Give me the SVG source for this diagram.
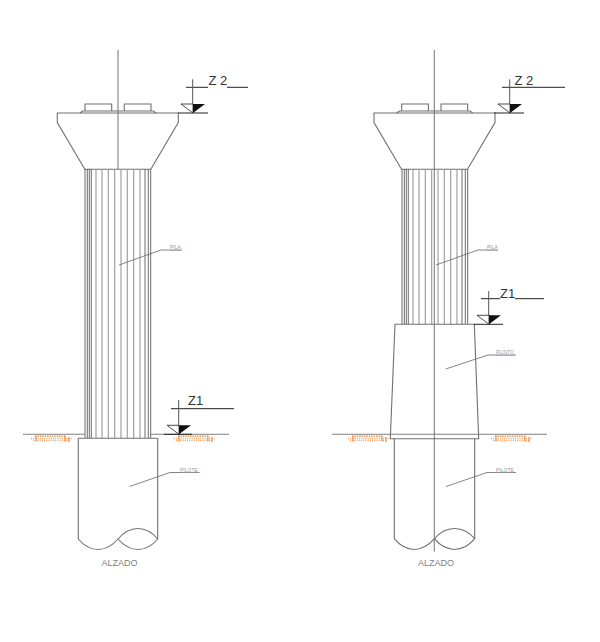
<svg xmlns="http://www.w3.org/2000/svg" width="600" height="642" viewBox="0 0 600 642">
<style>
.l{fill:none;stroke:#707070;stroke-width:1.1}
.c{fill:none;stroke:#808080;stroke-width:1.1}
.f{fill:none;stroke:#999;stroke-width:1.1}
.fd{fill:none;stroke:#5c5c5c;stroke-width:.9}
.k{fill:none;stroke:#222;stroke-width:1}
.ld{fill:none;stroke:#666;stroke-width:.8}
.t{font-family:"Liberation Sans",Arial,sans-serif}
.z{font-size:13px;fill:#333}
.s{font-size:5px;fill:#999;text-decoration:underline}
.a{font-size:9px;fill:#808080}
.h1{fill:none;stroke:#e07f30;stroke-width:1.2;stroke-dasharray:1.5 .9}
.h2{fill:none;stroke:#eda268;stroke-width:1.6;stroke-dasharray:1 1.2}
.h3{fill:none;stroke:#dd7a28;stroke-width:.9}
</style>
<defs>
<g id="hatch">
<path class="h1" d="M5 1.200H36"/>
<path class="h2" d="M1 3.500H42M3 5.500H40"/>
<path class="h3" d="M6 1V6.500M35 1V6.500M39 2V7"/>
</g>
<g id="mark">
<path d="M-12 -9H0V0Z" fill="#fff" stroke="#222" stroke-width=".8"/>
<path d="M0 -9H12L0 0Z" fill="#111"/>
</g>
<g id="cap">
<path class="l" d="M0 0H121V9.500L93.500 56.300H27.500L0 9.500Z"/>
<path class="l" d="M22.700 0L25.500 -2H96L98.700 0"/>
<path class="l" d="M27.700 -2V-9H54.400V-2M67 -2V-9H93.700V-2"/>
</g>
</defs>

<g id="left-elevation">
<line class="c" x1="118" y1="50" x2="118" y2="169"/>
<use href="#cap" x="57.300" y="113"/>
<path class="fd" d="M85 169V438M87.300 169V438M89.300 169V438M91.300 169V438M145 169V438M148.300 169V438M150.700 169V438"/>
<path class="f" d="M96 169V438M102 169V438M108.300 169V438M114.700 169V438M121 169V438M127.300 169V438M133.700 169V438M140 169V438"/>
<path class="c" d="M23 434.300H85M151 434.300H229"/>
<use href="#hatch" x="30" y="435"/>
<use href="#hatch" x="173" y="435"/>
<path class="l" d="M78.300 438.300H157.700M78.300 438.300V539M157.700 438.300V539"/>
<path class="l" d="M78.300 539C90 553 106 553 118 539C130 525 146 525 157.700 539C146 553 130 553 118 539"/>
</g>

<g id="right-elevation">
<line class="c" x1="434.300" y1="50" x2="434.300" y2="551.700"/>
<use href="#cap" x="374" y="113"/>
<path class="fd" d="M402 169V324M404.300 169V324M406.300 169V324M408.300 169V324M462 169V324M465.300 169V324M467.700 169V324"/>
<path class="f" d="M413 169V324M419 169V324M425.300 169V324M431.700 169V324M438 169V324M444.300 169V324M450.700 169V324M457 169V324"/>
<path class="l" d="M395 324.300H474.300L478.700 438.700H390.300Z"/>
<path class="c" d="M332 434.300H547"/>
<use href="#hatch" x="347" y="435"/>
<use href="#hatch" x="490" y="435"/>
<path class="l" d="M394.300 438.700V538.700M474.700 438.700V538.700"/>
<path class="l" d="M394.300 538.700C406 553 422 553 434.500 538.700C446 525 463 525 474.700 538.700C463 553 446 553 434.500 538.700"/>
</g>

<g id="connectors">
<path class="ld" d="M119 265L161 250H182"/>
<path class="ld" d="M129.500 486.500L170 472.500H199.500"/>
<path class="ld" d="M436 265L478 250H498"/>
<path class="ld" d="M445.700 369L488 355H516"/>
<path class="ld" d="M446 486.500L487 472.500H516"/>
</g>

<g id="level-z2-left">
<path class="k" d="M178 113H208M186 87.300H208M227 87.300H248"/>
<path d="M192.700 79.300V113" fill="none" stroke="#555"/>
<use href="#mark" x="193" y="113"/>
<text class="t z" x="208.500" y="85">Z 2</text>
</g>
<g id="level-z1-left">
<path class="k" d="M164 434.300H192M171 408.700H234"/>
<path d="M178.700 400V434" fill="none" stroke="#555"/>
<use href="#mark" x="179" y="434.300"/>
<text class="t z" x="188" y="405">Z1</text>
</g>
<g id="level-z2-right">
<path class="k" d="M494 113H524M502 87.300H565"/>
<path d="M509.700 79.300V113" fill="none" stroke="#555"/>
<use href="#mark" x="510" y="113"/>
<text class="t z" x="514.500" y="85">Z 2</text>
</g>
<g id="level-z1-right">
<path class="k" d="M474 324.300H503M481 298.700H500M515 298.700H544"/>
<path d="M488.700 291V324" fill="none" stroke="#555"/>
<use href="#mark" x="489" y="324.300"/>
<text class="t z" x="500" y="298">Z1</text>
</g>

<g id="labels">
<text class="t s" x="170" y="249">PILA</text>
<text class="t s" x="180" y="471.500">PILOTE</text>
<text class="t s" x="487" y="249">PILA</text>
<text class="t s" x="496" y="354">PLINTO</text>
<text class="t s" x="496" y="471.500">PILOTE</text>
<text class="t a" x="101.500" y="566">ALZADO</text>
<text class="t a" x="418" y="566">ALZADO</text>
</g>
</svg>
